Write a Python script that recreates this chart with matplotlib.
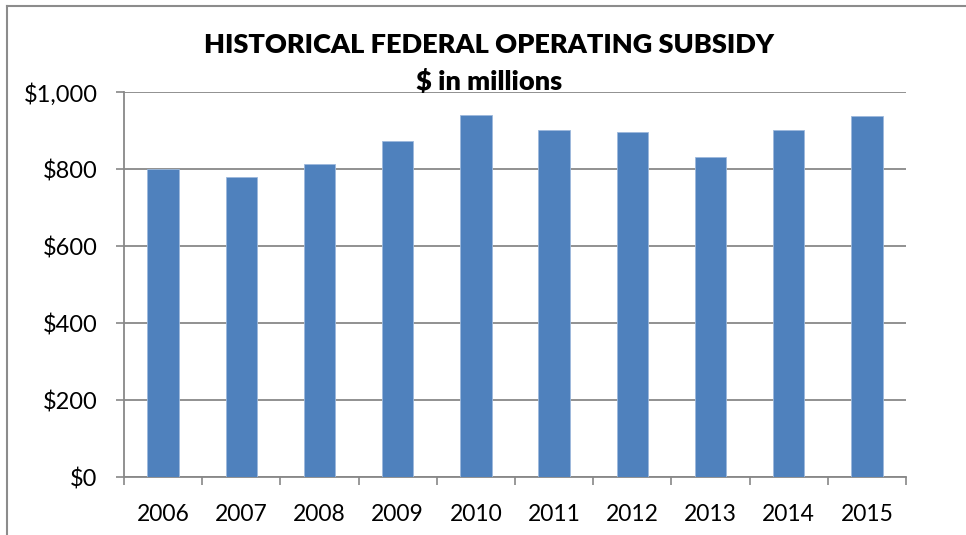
import matplotlib
matplotlib.use("Agg")
import matplotlib.pyplot as plt
from matplotlib.lines import Line2D
from matplotlib.ticker import FuncFormatter

years = ["2006", "2007", "2008", "2009", "2010", "2011", "2012", "2013", "2014", "2015"]
subsidy = [800, 780, 814, 873, 940, 903, 896, 831, 901, 938]
y_ticks = [0, 200, 400, 600, 800, 1000]

plt.rcParams["font.family"] = ["Lato", "DejaVu Sans"]

fig = plt.figure(figsize=(9.66, 5.35), dpi=100)
ax = fig.add_axes([0.1284, 0.1075, 0.8095, 0.72])

x = range(len(years))
ax.bar(x, subsidy, width=0.4, color="#4F81BD", edgecolor="#9DB9DC",
       linewidth=0.6, zorder=3)

ax.set_xlim(-0.5, len(years) - 0.5)
ax.set_ylim(0, 1000)
ax.set_yticks(y_ticks)
ax.yaxis.set_major_formatter(FuncFormatter(lambda v, p: f"${v:,.0f}"))
ax.grid(axis="y", color="#888888", lw=1.3, zorder=0)

# year labels between category boundaries
ax.set_xticks([i - 0.5 for i in range(len(years) + 1)])
ax.set_xticklabels([])
ax.set_xticks(list(x), minor=True)
ax.set_xticklabels(years, minor=True, fontsize=16.5)
ax.tick_params(axis="x", which="minor", length=0, pad=19)
ax.tick_params(axis="x", which="major", length=6, width=1.2, color="#888888")
ax.tick_params(axis="y", length=6, width=1.2, color="#888888",
               labelsize=17, pad=13)

for side in ["top", "right"]:
    ax.spines[side].set_visible(False)
for side in ["left", "bottom"]:
    ax.spines[side].set_color("#888888")
    ax.spines[side].set_linewidth(1.3)

fig.text(0.506, 0.915, "HISTORICAL FEDERAL OPERATING SUBSIDY", ha="center",
         va="center", fontsize=19.5, fontweight="heavy")
fig.text(0.506, 0.848, "$ in millions", ha="center", va="center",
         fontsize=19.5, fontweight="heavy")

# outer chart frame (left and top visible)
fig.add_artist(Line2D([0.0075, 0.0075], [0, 0.989], transform=fig.transFigure,
                      color="#8c8c8c", lw=1.5))
fig.add_artist(Line2D([0.0075, 1.0], [0.989, 0.989], transform=fig.transFigure,
                      color="#8c8c8c", lw=1.5))

fig.savefig("out.png", dpi=100)
plt.close(fig)
